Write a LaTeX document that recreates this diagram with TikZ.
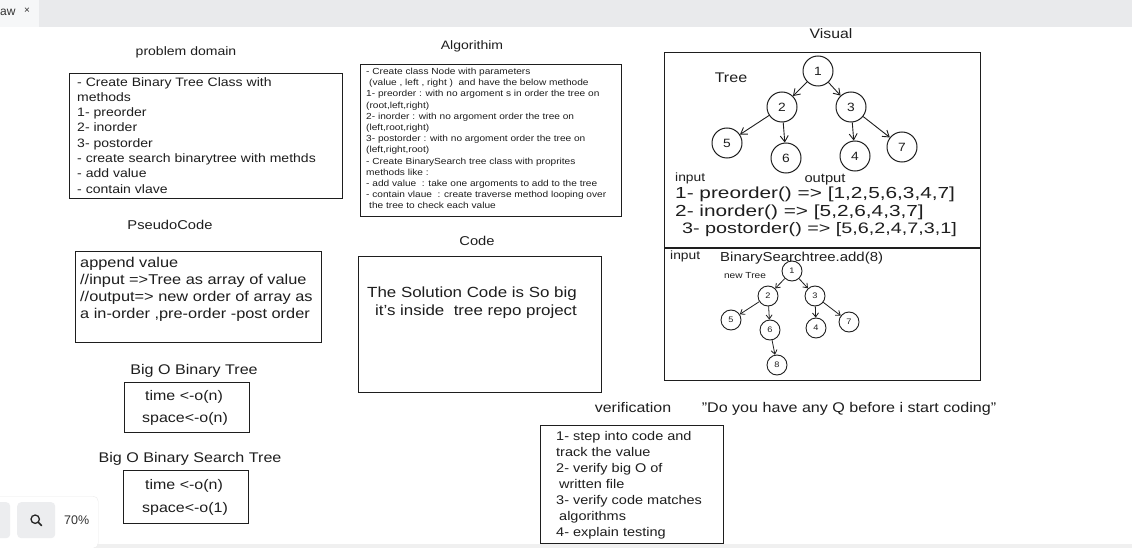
\documentclass[tikz,border=0pt]{standalone}
\usepackage{fontspec}
\setmainfont[FakeStretch=1.15]{Liberation Sans}
\newfontfamily\uifont{Liberation Sans}
\newfontfamily\widefont[FakeStretch=1.3]{Liberation Sans}
\usetikzlibrary{arrows.meta}
\definecolor{ink}{HTML}{1E1E1E}
\definecolor{barbg}{HTML}{E9EAEC}
\definecolor{tabbg}{HTML}{F6F7F8}
\definecolor{btnbg}{HTML}{ECEDEF}
\begin{document}
\begin{tikzpicture}[x=1pt,y=-1pt,
  box/.style={draw=ink, line width=1.1pt, inner sep=0, anchor=north west},
  ttl/.style={font=\fontsize{14}{16}\selectfont, text=ink, inner sep=0},
  body/.style={align=left, anchor=north west, inner sep=0, text=ink},
  tn/.style={circle, draw=ink, line width=1pt, minimum size=30pt, inner sep=0, font=\fontsize{12}{12}\selectfont, text=ink},
  sn/.style={circle, draw=ink, line width=0.9pt, minimum size=20pt, inner sep=0, font=\fontsize{8}{8}\selectfont, text=ink},
  arr/.style={-{Straight Barb[length=6pt,width=8pt]}, draw=ink, line width=0.9pt},
  sarr/.style={-{Straight Barb[length=4pt,width=6pt]}, draw=ink, line width=0.8pt},
  ui/.style={font=\uifont\fontsize{12}{14}\selectfont, text=black!80, inner sep=0}
]
\useasboundingbox (0,0) rectangle (1132,548);
\fill[white] (0,0) rectangle (1132,548);
% top bar
\fill[barbg] (0,0) rectangle (1132,27);
\fill[tabbg] (0,0) rectangle (39,27);
\node[ui, anchor=west] (tabname) at (0,12) {aw};
\node[ui, anchor=west, font=\uifont\fontsize{10}{12}\selectfont] (tabclose) at (24,11) {×};

% problem domain
\node[ttl, font=\fontsize{12.2}{14}\selectfont] (pdtitle) at (186,52) {problem domain};
\node[box, minimum width=273pt, minimum height=125pt] (pdbox) at (69,73) {};
\node[body, font=\fontsize{12.2}{15.3}\selectfont] (pdtext) at (77,77) {- Create Binary Tree Class with\\methods\\1- preorder\\2- inorder\\3- postorder\\- create search binarytree with methds\\- add value\\- contain vlave};

% algorithm
\node[ttl, font=\fontsize{12.2}{14}\selectfont] (altitle) at (472,46) {Algorithim};
\node[box, minimum width=261pt, minimum height=152pt] (albox) at (360,64) {};
\node[body, font=\fontsize{8.8}{11.2}\selectfont] (altext) at (366,68) {- Create class Node with parameters\\\hspace{3pt}(value , left , right )\ \ and have the below methode\\1- preorder : with no argoment s in order the tree on\\(root,left,right)\\2- inorder : with no argoment order the tree on\\(left,root,right)\\3- postorder : with no argoment order the tree on\\(left,right,root)\\- Create BinarySearch tree class with proprites\\methods like :\\- add value\ \ : take one argoments to add to the tree\\- contain vlaue\ \ : create traverse method looping over\\\hspace{3pt}the tree to check each value};

% pseudocode
\node[ttl, font=\fontsize{12.8}{14}\selectfont] (pstitle) at (170,225) {PseudoCode};
\node[box, minimum width=246pt, minimum height=91pt] (psbox) at (75,251) {};
\node[body, font=\fontsize{14.2}{16.9}\selectfont] (pstext) at (80,257) {append value\\//input =>Tree as array of value\\//output=> new order of array as\\a in-order ,pre-order -post order};

% code
\node[ttl, font=\fontsize{12.8}{14}\selectfont] (cdtitle) at (477,241) {Code};
\node[box, minimum width=243pt, minimum height=136pt] (cdbox) at (358,256) {};
\node[body, font=\fontsize{14.7}{18}\selectfont] (cdtext) at (367,287) {The Solution Code is So big\\\hspace{8pt}it's inside\ \ tree repo project};

% Big O binary tree
\node[ttl] (bo1title) at (194,371) {Big O Binary Tree};
\node[box, minimum width=125pt, minimum height=50pt] (bo1box) at (124,382) {};
\node[ttl, font=\fontsize{13.9}{15}\selectfont] (bo1time) at (184,397) {time <-o(n)};
\node[ttl, font=\fontsize{13.9}{15}\selectfont] (bo1space) at (185,419) {space<-o(n)};

% Big O binary search tree
\node[ttl] (bo2title) at (190,459) {Big O Binary Search Tree};
\node[box, minimum width=125pt, minimum height=53pt] (bo2box) at (123,470) {};
\node[ttl, font=\fontsize{13.9}{15}\selectfont] (bo2time) at (184,486) {time <-o(n)};
\node[ttl, font=\fontsize{13.9}{15}\selectfont] (bo2space) at (185,509) {space<-o(1)};

% verification
\node[ttl, font=\fontsize{13.9}{15}\selectfont] (vftitle) at (633,408) {verification};
\node[ttl] (quote) at (849,409) {"Do you have any Q before i start coding"};
\node[box, minimum width=183pt, minimum height=118pt] (vfbox) at (540,425) {};
\node[body, font=\fontsize{12.6}{16}\selectfont] (vftext) at (556,431) {1- step into code and\\track the value\\2- verify big O of\\\hspace{3pt}written file\\3- verify code matches\\\hspace{3pt}algorithms\\4- explain testing};

% visual
\node[ttl, font=\fontsize{13.7}{15}\selectfont] (vstitle) at (831,34) {Visual};
\node[box, minimum width=316pt, minimum height=328pt] (vsbox) at (664,52) {};
\coordinate (divl) at (664,248);
\coordinate (divr) at (980,248);
\draw[ink, line width=1.1pt] (divl) -- (divr);
\node[ttl] (treelbl) at (731,78) {Tree};
\node[tn] (t1) at (818,71) {1};
\node[tn] (t2) at (782,107) {2};
\node[tn] (t3) at (851,107) {3};
\node[tn] (t5) at (727,143) {5};
\node[tn] (t6) at (786,158) {6};
\node[tn] (t4) at (855,156) {4};
\node[tn] (t7) at (902,147) {7};
\draw[arr] (t1) -- (t2);
\draw[arr] (t1) -- (t3);
\draw[arr] (t2) -- (t5);
\draw[arr] (t2) -- (t6);
\draw[arr] (t3) -- (t4);
\draw[arr] (t3) -- (t7);
\node[ttl, font=\fontsize{12}{14}\selectfont, anchor=west] (inlbl) at (675,178) {input};
\node[ttl, font=\fontsize{12.8}{14}\selectfont] (outlbl) at (825,180) {output};
\node[body, font=\widefont\fontsize{16}{18}\selectfont, anchor=west] (ord1) at (675,194) {1- preorder() => [1,2,5,6,3,4,7]};
\node[body, font=\widefont\fontsize{16}{18}\selectfont, anchor=west] (ord2) at (675,212) {2- inorder() => [5,2,6,4,3,7]};
\node[body, font=\widefont\fontsize{15.2}{18}\selectfont, anchor=west] (ord3) at (682,230) {3- postorder() => [5,6,2,4,7,3,1]};

\node[ttl, font=\fontsize{12}{14}\selectfont, anchor=west] (in2lbl) at (670,256) {input};
\node[ttl, font=\fontsize{13}{17}\selectfont, anchor=west] (bstadd) at (720,258) {BinarySearchtree.add(8)};
\node[ttl, font=\fontsize{8.8}{10}\selectfont] (newtree) at (745,276) {new Tree};
\node[sn] (s1) at (792,271) {1};
\node[sn] (s2) at (768,296) {2};
\node[sn] (s3) at (815,296) {3};
\node[sn] (s5) at (731,320) {5};
\node[sn] (s6) at (770,330) {6};
\node[sn] (s4) at (816,328) {4};
\node[sn] (s7) at (849,322) {7};
\node[sn] (s8) at (777,365) {8};
\draw[sarr] (s1) -- (s2);
\draw[sarr] (s1) -- (s3);
\draw[sarr] (s2) -- (s5);
\draw[sarr] (s2) -- (s6);
\draw[sarr] (s3) -- (s4);
\draw[sarr] (s3) -- (s7);
\draw[sarr] (s6) -- (s8);

% bottom UI
\fill[black!6] (0,544) rectangle (1132,548);
\node[fill=white, draw=black!8, rounded corners=5pt, minimum width=104pt, minimum height=52pt, anchor=north west, inner sep=0] (zoompanel) at (-6,496) {};
\node[fill=btnbg, rounded corners=4pt, minimum width=16pt, minimum height=36pt, anchor=north west, inner sep=0] (btnleft) at (-6,502) {};
\node[fill=btnbg, rounded corners=4pt, minimum width=38pt, minimum height=36pt, anchor=north west, inner sep=0] (btnzoom) at (17,502) {};
\draw[black!85, line width=1.3pt] (btnzoom.center) ++(-1,-1) circle (4.2pt);
\draw[black!85, line width=1.5pt, line cap=round] (btnzoom.center) ++(2,2) -- ++(3.5,3.5);
\node[ui, anchor=west, font=\uifont\fontsize{12.5}{14}\selectfont] (zoompct) at (64,520) {70\%};
\end{tikzpicture}
\end{document}
